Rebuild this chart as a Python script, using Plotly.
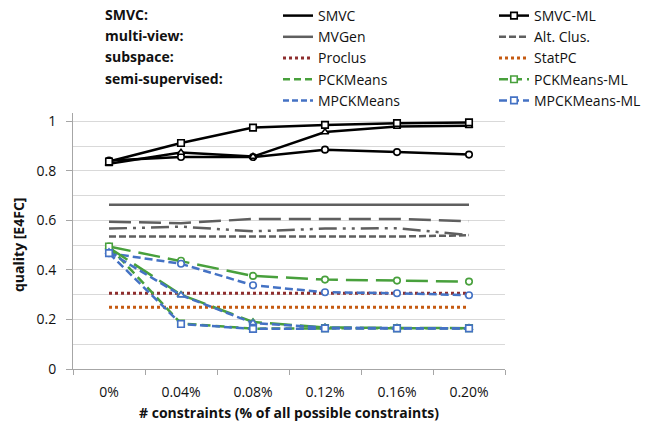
import plotly.graph_objects as go

# ---------------- data ----------------
categories = ["0%", "0.04%", "0.08%", "0.12%", "0.16%", "0.20%"]

smvc_ml = [0.838, 0.913, 0.975, 0.986, 0.993, 0.996]
smvc_tri = [0.829, 0.874, 0.858, 0.957, 0.979, 0.982]
smvc_circ = [0.842, 0.856, 0.856, 0.886, 0.876, 0.866]

mvgen = [0.663, 0.663, 0.663, 0.663, 0.663, 0.663]
alt_long = [0.595, 0.589, 0.606, 0.606, 0.606, 0.597]
alt_dashdot = [0.567, 0.575, 0.556, 0.567, 0.569, 0.541]
alt_short = [0.535, 0.535, 0.535, 0.535, 0.535, 0.540]

proclus = [0.306, 0.306, 0.306, 0.306, 0.306, 0.306]
statpc = [0.249, 0.249, 0.249, 0.249, 0.249, 0.249]

pck_circ = [0.495, 0.437, 0.376, 0.361, 0.357, 0.353]
mpck_circ = [0.468, 0.425, 0.338, 0.310, 0.306, 0.298]
pck_tri = [0.490, 0.300, 0.190, 0.168, 0.166, 0.165]
mpck_tri = [0.472, 0.298, 0.186, 0.167, 0.165, 0.165]
pck_ml = [0.495, 0.184, 0.163, 0.165, 0.165, 0.165]
mpck_ml = [0.468, 0.182, 0.162, 0.164, 0.164, 0.164]

group_labels = ["SMVC:", "multi-view:", "subspace:", "semi-supervised:"]
x_title = "# constraints (% of all possible constraints)"
y_title = "quality [E4FC]"

# ---------------- styles ----------------
BLACK = "#000000"
GREY = "#5f5f5f"
GREEN = "#48a03c"
BLUE = "#4472c4"
DARKRED = "#8e2e2e"
ORANGE = "#c55a11"
TEXT = "#111111"
FONT = "Open Sans"

W, H = 654, 422
L, R, T, B = 73, 149, 113, 53
YMAX = 1.034
plot_h = H - T - B
plot_w = W - L - R


def px_x(px):
    return (px - L) / plot_w


def px_y(py):
    return (H - B - py) / plot_h


fig = go.Figure()


def add(y, color, dash="solid", width=2.5, symbol=None, name=None,
        legend=None, rank=None):
    mode = "lines+markers" if symbol else "lines"
    fig.add_trace(go.Scatter(
        x=categories, y=y, mode=mode, name=name,
        showlegend=legend is not None,
        legend=legend or "legend", legendrank=rank or 1000,
        line=dict(color=color, width=width, dash=dash),
        marker=dict(symbol=symbol or "circle-open", size=6.5,
                    color="white", line=dict(color=color, width=1.6)),
    ))


def legend_only(color, dash, name, legend, rank, width=2.5):
    fig.add_trace(go.Scatter(
        x=[None], y=[None], mode="lines", name=name, legend=legend,
        legendrank=rank, showlegend=True,
        line=dict(color=color, width=width, dash=dash),
    ))


LONG = "22px,8px"
SHORT = "7px,3px"
DASHDOT = "18px,6px,3px,6px,3px,6px"
DOT = "3px,3px"
BLUEDASH = "8px,4px"

# grey / dotted baselines
add(mvgen, GREY, name="MVGen", legend="legend", rank=2)
add(alt_long, GREY, dash=LONG)
add(alt_dashdot, GREY, dash=DASHDOT)
add(alt_short, GREY, dash=SHORT, name="Alt. Clus.", legend="legend2", rank=2)
add(proclus, DARKRED, dash=DOT, width=3, name="Proclus", legend="legend", rank=3)
add(statpc, ORANGE, dash=DOT, width=3, name="StatPC", legend="legend2", rank=3)

# semi-supervised
add(pck_circ, GREEN, dash=LONG, symbol="circle")
add(mpck_circ, BLUE, dash=BLUEDASH, symbol="circle")
add(pck_tri, GREEN, dash=LONG, symbol="triangle-up")
add(pck_ml, GREEN, dash="9px,5px", symbol="square", name="PCKMeans-ML",
    legend="legend2", rank=4)
add(mpck_tri, BLUE, dash=BLUEDASH, symbol="triangle-up")
add(mpck_ml, BLUE, dash=BLUEDASH, symbol="square", name="MPCKMeans-ML",
    legend="legend2", rank=5)

# SMVC
add(smvc_circ, BLACK, symbol="circle")
add(smvc_tri, BLACK, symbol="triangle-up")
add(smvc_ml, BLACK, symbol="square", name="SMVC-ML", legend="legend2", rank=1)

legend_only(BLACK, "solid", "SMVC", "legend", 1)
legend_only(GREEN, "7px,4px", "PCKMeans", "legend", 4)
legend_only(BLUE, "6px,3px", "MPCKMeans", "legend", 5)

# group labels on the left of the legend
row_px = [14, 35.3, 56.7, 78.3]
for lbl, yp in zip(group_labels, row_px):
    fig.add_annotation(
        text=lbl, xref="paper", yref="paper",
        x=px_x(103), y=px_y(yp),
        xanchor="left", yanchor="middle", showarrow=False,
        font=dict(family=FONT, size=14, color=TEXT, weight="bold"),
    )

# axis titles
fig.add_annotation(
    text=x_title, xref="paper", yref="paper", x=0.5, y=px_y(412),
    xanchor="center", yanchor="middle", showarrow=False,
    font=dict(family=FONT, size=14, color=TEXT, weight="bold"),
)
fig.add_annotation(
    text=y_title, xref="paper", yref="paper", x=px_x(18), y=px_y(245),
    xanchor="center", yanchor="middle", showarrow=False, textangle=-90,
    font=dict(family=FONT, size=14, color=TEXT, weight="bold"),
)

leg_common = dict(xref="container", yref="container", xanchor="left",
                  yanchor="top", bgcolor="rgba(0,0,0,0)", borderwidth=0,
                  font=dict(family=FONT, size=14, color=TEXT),
                  tracegroupgap=0, itemwidth=30, traceorder="normal")

fig.update_layout(
    width=W, height=H,
    margin=dict(l=L, r=R, t=T, b=B, autoexpand=False),
    paper_bgcolor="white", plot_bgcolor="white",
    font=dict(family=FONT, size=14, color=TEXT),
    legend=dict(x=278 / W, y=1.008, **leg_common),
    legend2=dict(x=494 / W, y=1.008, **leg_common),
    xaxis=dict(
        type="category", tickson="boundaries", showgrid=False,
        showline=True, linecolor="#a6a6a6", linewidth=1,
        ticks="outside", ticklen=5, tickcolor="#a6a6a6",
        ticklabelstandoff=10,
        tickfont=dict(family=FONT, size=14, color=TEXT),
        automargin=False, range=[-0.5, 5.5],
    ),
    yaxis=dict(
        range=[0, YMAX], dtick=0.2, tick0=0, tickformat="~g",
        showgrid=True, gridcolor="#d9d9d9", gridwidth=1,
        minor=dict(dtick=0.1, showgrid=True, gridcolor="#d9d9d9", gridwidth=1),
        showline=True, linecolor="#a6a6a6", linewidth=1,
        ticks="outside", ticklen=6, tickcolor="#a6a6a6",
        ticklabelstandoff=7, zeroline=False,
        tickfont=dict(family=FONT, size=14, color=TEXT),
        automargin=False,
    ),
)

fig.write_html("out.html")
